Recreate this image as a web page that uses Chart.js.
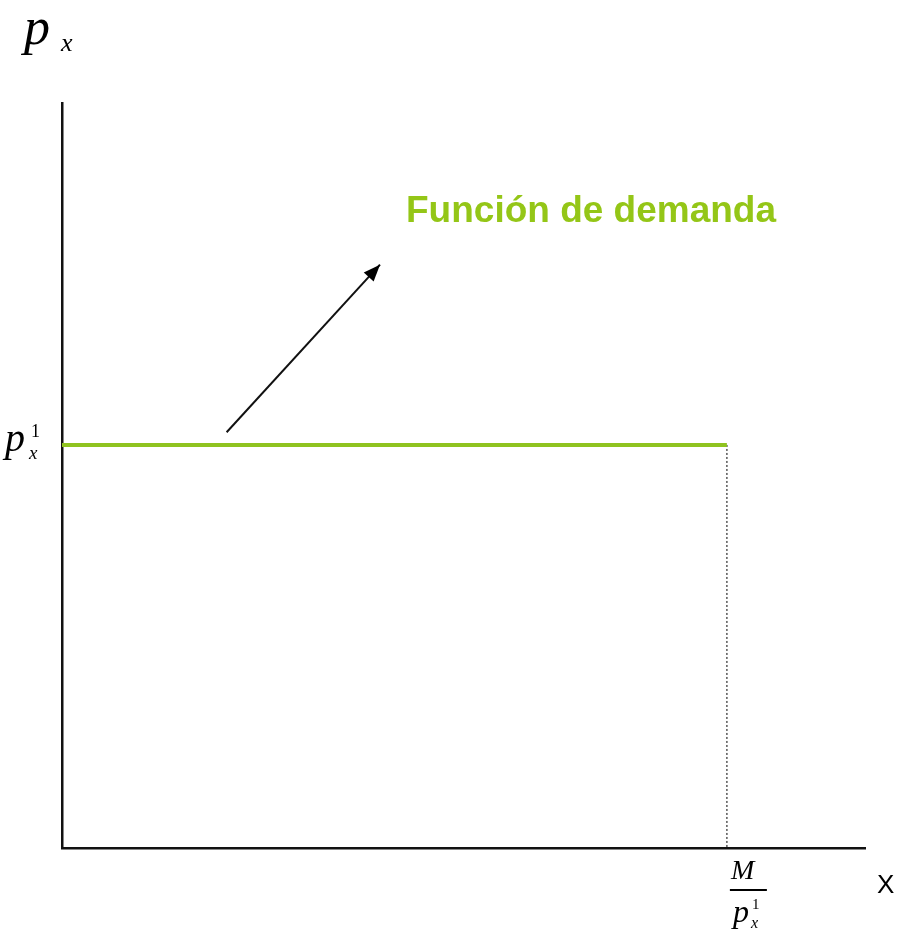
<!DOCTYPE html>
<html>
<head>
<meta charset="utf-8">
<script src="https://cdn.jsdelivr.net/npm/chart.js@4"></script>
<style>
  html, body { margin: 0; padding: 0; background: #fff; }
  #wrap { width: 903px; height: 937px; }
</style>
</head>
<body>
<div id="wrap"><canvas id="demanda"></canvas></div>
<script>
// values (axis units 0..100)
const demandX = [0, 82.8]
const demandY = [54.1, 54.1]
const guideX = [82.8, 82.8]
const guideY = [54.1, 0]
const arrowX = [20.5, 39.6]
const arrowY = [55.8, 78.3]

const green = '#8fc31f'

function pts (xs, ys) {
  return xs.map((x, i) => ({ x: x, y: ys[i] }))
}

const labels = {
  id: 'labels',
  afterDatasetsDraw (chart) {
    const ctx = chart.ctx
    const xs = chart.scales.x
    const ys = chart.scales.y
    ctx.save()
    ctx.fillStyle = '#000'
    ctx.textBaseline = 'alphabetic'

    // arrow head
    const meta = chart.getDatasetMeta(2).data
    const a = meta[0]
    const b = meta[1]
    const ang = Math.atan2(b.y - a.y, b.x - a.x)
    ctx.beginPath()
    ctx.moveTo(b.x, b.y)
    ctx.lineTo(b.x - 18 * Math.cos(ang - 0.38), b.y - 18 * Math.sin(ang - 0.38))
    ctx.lineTo(b.x - 18 * Math.cos(ang + 0.38), b.y - 18 * Math.sin(ang + 0.38))
    ctx.closePath()
    ctx.fill()

    // axis names
    ctx.font = 'italic 52px "Liberation Serif"'
    ctx.fillText('p', 24, 44)
    ctx.font = 'italic 26px "Liberation Serif"'
    ctx.fillText('x', 61, 51)

    ctx.font = '26px "Liberation Sans"'
    ctx.fillText('X', 877, 893)

    // p_x^1 on y axis
    const py = ys.getPixelForValue(demandY[0])
    ctx.font = 'italic 40px "Liberation Serif"'
    ctx.fillText('p', 5, py + 6)
    ctx.font = '18px "Liberation Serif"'
    ctx.fillText('1', 31, py - 8)
    ctx.font = 'italic 19px "Liberation Serif"'
    ctx.fillText('x', 29, py + 14)

    // M / p_x^1 on x axis
    const mx = xs.getPixelForValue(guideX[0])
    ctx.font = 'italic 28px "Liberation Serif"'
    ctx.fillText('M', mx + 4, 879)
    ctx.fillRect(mx + 3, 889, 37, 2)
    ctx.font = 'italic 32px "Liberation Serif"'
    ctx.fillText('p', mx + 6, 922)
    ctx.font = '15px "Liberation Serif"'
    ctx.fillText('1', mx + 25, 909)
    ctx.font = 'italic 16px "Liberation Serif"'
    ctx.fillText('x', mx + 24, 928)

    // curve name
    ctx.fillStyle = '#94c617'
    ctx.font = 'bold 37px "Liberation Sans"'
    ctx.fillText('Función de demanda', 406, 222)
    ctx.restore()
  }
}

new Chart(document.getElementById('demanda'), {
  type: 'line',
  data: {
    datasets: [
      {
        data: pts(demandX, demandY),
        borderColor: green,
        borderWidth: 4,
        pointRadius: 0
      },
      {
        data: pts(guideX, guideY),
        borderColor: '#555',
        borderWidth: 1.5,
        borderDash: [2, 2],
        pointRadius: 0
      },
      {
        data: pts(arrowX, arrowY),
        borderColor: '#111',
        borderWidth: 2,
        pointRadius: 0
      }
    ]
  },
  options: {
    responsive: true,
    maintainAspectRatio: false,
    animation: false,
    layout: { padding: { left: 54, top: 103, right: 38, bottom: 81 } },
    plugins: { legend: { display: false }, tooltip: { enabled: false } },
    scales: {
      x: {
        type: 'linear', min: 0, max: 100,
        grid: { display: false },
        ticks: { display: false },
        border: { display: true, color: '#111', width: 2.5 }
      },
      y: {
        type: 'linear', min: 0, max: 100,
        grid: { display: false },
        ticks: { display: false },
        border: { display: true, color: '#111', width: 2.5 }
      }
    }
  },
  plugins: [labels]
})
</script>
</body>
</html>
